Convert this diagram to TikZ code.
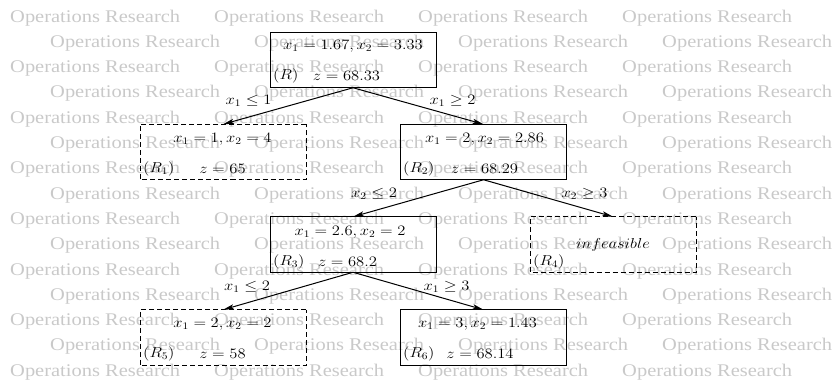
\documentclass[tikz,border=0pt]{standalone}
\usepackage{fontspec}
\newfontfamily\wmfont{Liberation Serif}
\usetikzlibrary{arrows.meta}

\begin{document}
\begin{tikzpicture}[x=0.869565pt, y=-1pt, xscale=1.15,
  every node/.append style={transform shape},
  wm/.style={text=black!21, font=\wmfont\fontsize{17.8}{20}\selectfont, inner sep=0pt, anchor=base west},
  lpbox/.style={rectangle, draw, line width=1pt, minimum width=144.35pt, minimum height=55.5pt, inner sep=0pt, outer sep=0pt},
  prunebox/.style={lpbox, dash pattern=on 5pt off 3pt},
  txt/.style={font=\fontsize{13.9}{16}\selectfont, inner sep=0pt},
  tag/.style={txt, anchor=west},
  branch/.style={line width=1pt, -{Stealth[length=11pt, width=5pt, inset=2.5pt]}},
]
\useasboundingbox (0,0) rectangle (835,381);

% background watermark rows
\foreach \k in {0,...,14} {
  \pgfmathsetmacro\yy{22+25.3*\k}
  \pgfmathsetmacro\xo{mod(\k,2)==0 ? 10 : 50}
  \foreach \j in {0,...,3} {
    \node[wm, name=wm-\k-\j] at ({\xo+204*\j}, \yy) {Operations Research};
  }
}

% subproblem boxes
\node[lpbox]    (R)  at (353,60)    {};
\node[prunebox] (R1) at (223,152)   {};
\node[lpbox]    (R2) at (483.5,152) {};
\node[lpbox]    (R3) at (353,244.5) {};
\node[prunebox] (R4) at (613,244.5) {};
\node[prunebox] (R5) at (223,337.5) {};
\node[lpbox]    (R6) at (483.5,337.5) {};

% box contents
\node[txt] (R-sol) at (353,46)   {$x_1 = 1.67, x_2 = 3.33$};
\node[tag] (R-tag) at (273,76)   {$(R)$};
\node[txt] (R-z)   at (346.5,76) {$z = 68.33$};

\node[txt] (R1-sol) at (222.5,139) {$x_1 = 1, x_2 = 4$};
\node[tag] (R1-tag) at (143,169)   {$(R_1)$};
\node[txt] (R1-z)   at (222.5,169) {$z = 65$};

\node[txt] (R2-sol) at (484.5,139) {$x_1 = 2, x_2 = 2.86$};
\node[tag] (R2-tag) at (403,169)   {$(R_2)$};
\node[txt] (R2-z)   at (484.5,169) {$z = 68.29$};

\node[txt] (R3-sol) at (350,232)   {$x_1 = 2.6, x_2 = 2$};
\node[tag] (R3-tag) at (273,262)   {$(R_3)$};
\node[txt] (R3-z)   at (347.5,262) {$z = 68.2$};

\node[txt] (R4-sol) at (613,245)   {$infeasible$};
\node[tag] (R4-tag) at (533,262)   {$(R_4)$};

\node[txt] (R5-sol) at (222.5,324) {$x_1 = 2, x_2 = 2$};
\node[tag] (R5-tag) at (143,354)   {$(R_5)$};
\node[txt] (R5-z)   at (222.5,354) {$z = 58$};

\node[txt] (R6-sol) at (477.5,324) {$x_1 = 3, x_2 = 1.43$};
\node[tag] (R6-tag) at (403,354)   {$(R_6)$};
\node[txt] (R6-z)   at (480,354)   {$z = 68.14$};

% branching arcs
\draw[branch] (R.south)  -- (R1.north);
\draw[branch] (R.south)  -- (R2.north);
\draw[branch] (R2.south) -- (R3.north);
\draw[branch] (R2.south) -- (R4.north);
\draw[branch] (R3.south) -- (R5.north);
\draw[branch] (R3.south) -- (R6.north);

% branching constraints
\node[txt] (c1) at (248.5,101) {$x_1 \le 1$};
\node[txt] (c2) at (452.5,101) {$x_1 \ge 2$};
\node[txt] (c3) at (374,194)   {$x_2 \le 2$};
\node[txt] (c4) at (584.5,194) {$x_2 \ge 3$};
\node[txt] (c5) at (247,287)   {$x_1 \le 2$};
\node[txt] (c6) at (446.5,287) {$x_1 \ge 3$};
\end{tikzpicture}
\end{document}
